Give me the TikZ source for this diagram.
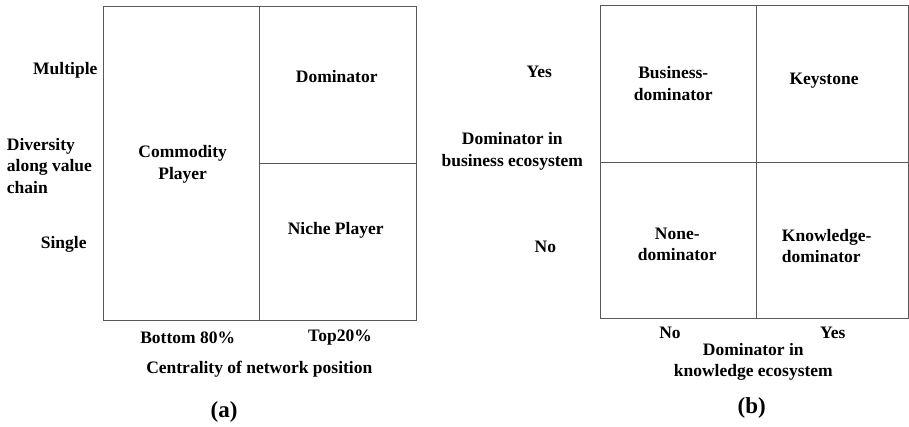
\documentclass[tikz,border=0pt]{standalone}
\usepackage{fontspec}
\setmainfont{Liberation Serif}
\begin{document}
\begin{tikzpicture}[x=1pt,y=-1pt,
  lbl/.style={font=\fontsize{17.5}{21.5}\selectfont\bfseries, inner sep=0pt, align=center},
  captxt/.style={font=\fontsize{23}{26}\selectfont\bfseries, inner sep=0pt},
  gridline/.style={draw=black!65, line width=0.9pt}]
\useasboundingbox (0,0) rectangle (909,426);
% panel (a)
\draw[gridline] (103.3,6.7) rectangle (416,320);
\draw[gridline] (259.7,6.7) -- (259.7,320);
\draw[gridline] (259.7,163.3) -- (416,163.3);
\node[lbl] (mult) at (65.3,70) {Multiple};
\node[lbl] (sing) at (63.7,244) {Single};
\node[lbl, align=left, anchor=west] (div) at (6.7,165.7) {Diversity\\along value\\chain};
\node[lbl] (comm) at (182.7,164.3) {Commodity\\Player};
\node[lbl] (dom) at (336.7,76.7) {Dominator};
\node[lbl] (niche) at (335.7,230) {Niche Player};
\node[lbl] (bot) at (187.7,337.3) {Bottom 80\%};
\node[lbl] (top) at (340,337.3) {Top20\%};
\node[lbl] (cent) at (259.3,369.3) {Centrality of network position};
\node[captxt] (a) at (224,411.7) {(a)};
% panel (b)
\draw[gridline] (600,5) rectangle (908.5,318.3);
\draw[gridline] (756.3,5) -- (756.3,318.3);
\draw[gridline] (600,162) -- (908.5,162);
\node[lbl] (yesl) at (539.3,71.7) {Yes};
\node[lbl] (nol) at (545.3,246.7) {No};
\node[lbl] (dbus) at (512.3,151.5) {Dominator in\\business ecosystem};
\node[lbl] (bdom) at (673.3,83.5) {Business-\\dominator};
\node[lbl] (key) at (824,80.7) {Keystone};
\node[lbl] (ndom) at (677.3,244.2) {None-\\dominator};
\node[lbl, align=left, anchor=west] (kdom) at (781.7,245.8) {Knowledge-\\dominator};
\node[lbl] (nob) at (670,333.3) {No};
\node[lbl] (yesb) at (832.7,333.3) {Yes};
\node[lbl] (dknow) at (753.3,361.8) {Dominator in\\knowledge ecosystem};
\node[captxt] (b) at (751.7,407.7) {(b)};
\end{tikzpicture}
\end{document}
